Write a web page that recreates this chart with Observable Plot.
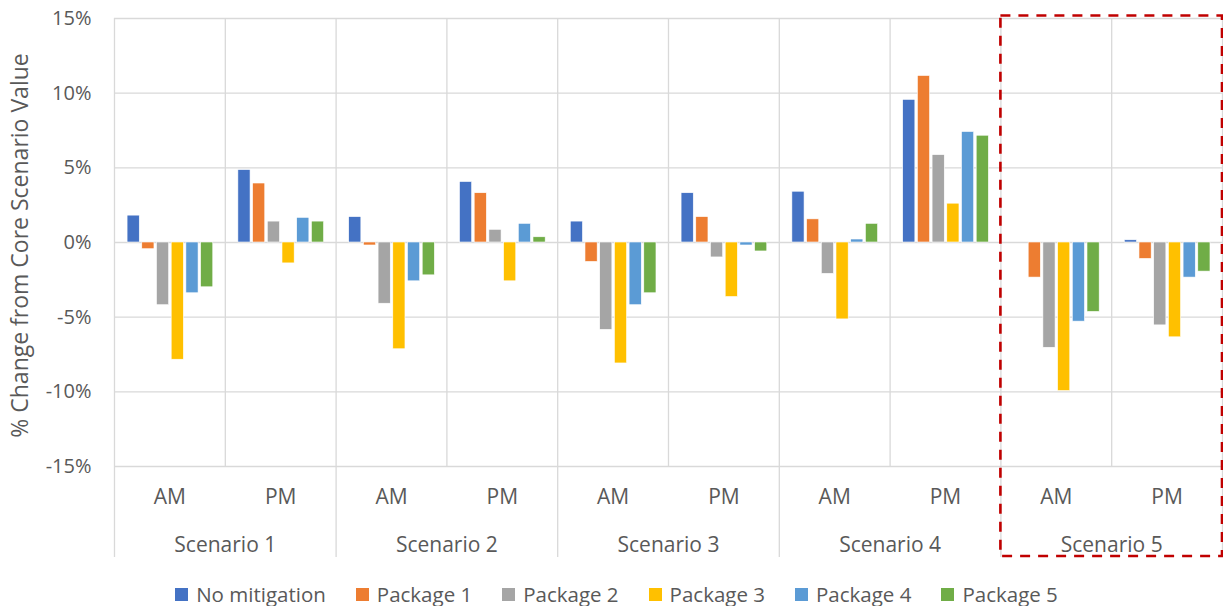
<!DOCTYPE html>
<html>
<head>
<meta charset="utf-8">
<script src="https://cdn.jsdelivr.net/npm/d3@7"></script>
<script src="https://cdn.jsdelivr.net/npm/@observablehq/plot@0.6"></script>
<style>
  html, body { margin: 0; padding: 0; background: #fff; }
  #chart { width: 1223px; }
  #chart svg { display: block; }
  #legend { padding-top: 7px; padding-left: 10px; width: 1213px; }
  #legend .lg-swatches {
    display: flex !important;
    justify-content: center !important;
    align-items: center !important;
    font-family: "Open Sans", sans-serif !important;
    font-size: 20.5px !important;
    color: #595959 !important;
    margin: 0 !important;
    height: 30px;
    min-height: 30px !important;
  }
  #legend .lg-swatch { margin-right: 30px !important; }
  #legend .lg-swatch:last-child { margin-right: 0 !important; }
  #legend .lg-swatch > svg { margin-right: 8px !important; }
</style>
</head>
<body>
<div id="chart"></div>
<div id="legend"></div>
<script>
// Categories: each scenario has an AM and a PM peak
const scenarios = ["Scenario 1", "Scenario 2", "Scenario 3", "Scenario 4", "Scenario 5"];
const periods = ["AM", "PM"];

// Series (mitigation packages) and their colours
const series = ["No mitigation", "Package 1", "Package 2", "Package 3", "Package 4", "Package 5"];
const colors = ["#4472C4", "#ED7D31", "#A5A5A5", "#FFC000", "#5B9BD5", "#70AD47"];

// % change from core scenario value, ordered S1 AM, S1 PM, S2 AM, ... S5 PM
const noMitigation = [1.8, 4.85, 1.7, 4.05, 1.4, 3.3, 3.4, 9.55, 0, 0.15];
const package1 = [-0.45, 3.95, -0.2, 3.3, -1.3, 1.7, 1.55, 11.15, -2.35, -1.1];
const package2 = [-4.2, 1.4, -4.1, 0.85, -5.85, -1.0, -2.1, 5.85, -7.05, -5.55];
const package3 = [-7.85, -1.4, -7.15, -2.6, -8.1, -3.65, -5.15, 2.6, -9.95, -6.35];
const package4 = [-3.4, 1.65, -2.6, 1.25, -4.2, -0.2, 0.2, 7.4, -5.3, -2.35];
const package5 = [-3.0, 1.4, -2.2, 0.35, -3.4, -0.6, 1.25, 7.15, -4.65, -1.95];

// y-axis tick values (percent)
const yTicks = [-15, -10, -5, 0, 5, 10, 15];

// Scenario highlighted with a dashed box
const highlighted = "Scenario 5";

// ---- derived tables ----
const seriesValues = [noMitigation, package1, package2, package3, package4, package5];
const categories = scenarios.flatMap((s, si) => periods.map((p, pi) => ({scenario: s, period: p, index: si * periods.length + pi})));

// Cluster layout inside one category slot (slot width = 1 on the x scale)
const clusterStart = 0.118, clusterStep = 0.1327, barWidth = 0.11;

const bars = [];
seriesValues.forEach((vals, j) => {
  vals.forEach((v, i) => {
    const left = i + clusterStart + j * clusterStep;
    bars.push({series: series[j], value: v, x1: left, x2: left + barWidth});
  });
});

const nCat = categories.length;
const boundaries = d3.range(nCat + 1);
const scenarioBounds = boundaries.filter(b => b % periods.length === 0);
const innerBounds = boundaries.filter(b => b % periods.length !== 0);
const hi = scenarios.indexOf(highlighted);

const grid = "#D9D9D9";
const textColor = "#595959";
const font = "Open Sans";

const chart = Plot.plot({
  width: 1223,
  height: 572,
  marginLeft: 114,
  marginRight: 1,
  marginTop: 18,
  marginBottom: 106,
  style: {fontFamily: font, fontSize: "20px", color: textColor, background: "#fff", overflow: "visible"},
  x: {domain: [0, nCat], axis: null},
  y: {domain: [-15, 15], ticks: 6, tickFormat: d => d + "%", tickSize: 0, tickPadding: 23, label: null},
  color: {domain: series, range: colors},
  marks: [
    // horizontal gridlines
    Plot.ruleY(yTicks, {stroke: grid, strokeWidth: 1.3}),
    // vertical separators between AM and PM
    Plot.ruleX(innerBounds, {stroke: grid, strokeWidth: 1.3}),
    // scenario separators, extended through the category labels
    Plot.ruleX(scenarioBounds, {stroke: grid, strokeWidth: 1.3, insetBottom: -91}),
    // clustered bars
    Plot.rect(bars, {x1: "x1", x2: "x2", y1: 0, y2: "value", fill: "series", stroke: "#fff", strokeWidth: 0.6}),
    // period labels
    Plot.text(categories, {x: d => d.index + 0.5, text: "period", frameAnchor: "bottom", dy: 37, fill: textColor, fontSize: 21}),
    // scenario labels
    Plot.text(scenarios, {x: (d, i) => i * periods.length + periods.length / 2, text: d => d, frameAnchor: "bottom", dy: 85, fill: textColor, fontSize: 21}),
    // y-axis title
    Plot.text(["% Change from Core Scenario Value"], {frameAnchor: "left", rotate: -90, textAnchor: "middle", dx: -94, dy: 3, text: d => d, fill: textColor, fontSize: 23}),
    // dashed highlight around one scenario
    Plot.rect([highlighted], {x1: hi * periods.length, x2: (hi + 1) * periods.length, fill: "none", stroke: "#C00000", strokeWidth: 2.6, strokeDasharray: "10,8", insetTop: -2.5, insetBottom: -90})
  ]
});
document.getElementById("chart").appendChild(chart);

const legend = Plot.legend({
  color: {type: "ordinal", domain: series, range: colors},
  legend: "swatches",
  swatchSize: 13,
  className: "lg"
});
document.getElementById("legend").appendChild(legend);
</script>
</body>
</html>
